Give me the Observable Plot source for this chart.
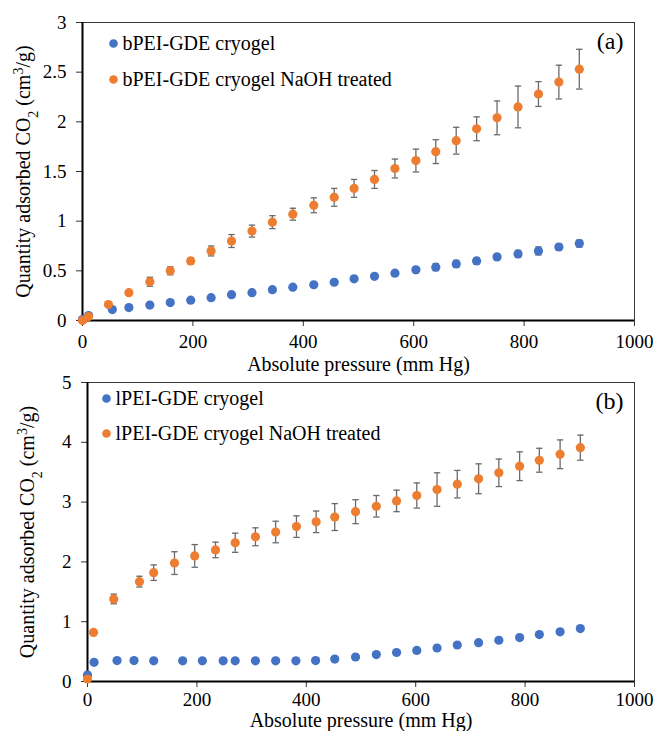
<!DOCTYPE html>
<html><head><meta charset="utf-8">
<script src="https://cdn.jsdelivr.net/npm/d3@7"></script>
<script src="https://cdn.jsdelivr.net/npm/@observablehq/plot@0.6"></script>
<style>
body{margin:0;background:#fff;}
#chart{width:656px;}
#chart svg{display:block;}
#chart svg, #chart svg text{font-family:"Liberation Serif","Times New Roman",serif !important;}
</style>
</head><body><div id="chart"></div>
<script>
// ---------- data ----------
const xTicks = [0, 200, 400, 600, 800, 1000];
const yTicksA = [0, 0.5, 1, 1.5, 2, 2.5, 3];
const yTicksB = [0, 1, 2, 3, 4, 5];

const seriesNamesA = ["bPEI-GDE cryogel", "bPEI-GDE cryogel NaOH treated"];
const seriesNamesB = ["lPEI-GDE cryogel", "lPEI-GDE cryogel NaOH treated"];
const panelTags = ["(a)", "(b)"];
const xLabel = "Absolute pressure (mm Hg)";
const yLabel = "Quantity adsorbed CO2 (cm3/g)";

// panel (a) – bPEI
const blueA_x = [0, 11, 54, 84, 122, 159, 196, 233, 270, 307, 344, 381, 419, 456, 492, 529, 566, 604, 640, 677, 714, 751, 789, 826, 863, 900];
const blueA_y = [0.01, 0.05, 0.11, 0.13, 0.155, 0.18, 0.205, 0.23, 0.26, 0.28, 0.31, 0.335, 0.36, 0.385, 0.42, 0.445, 0.476, 0.51, 0.537, 0.57, 0.60, 0.64, 0.67, 0.70, 0.74, 0.775];
const blueA_err = [0, 0, 0.01, 0.01, 0.01, 0.01, 0.01, 0.01, 0.01, 0.01, 0.015, 0.015, 0.015, 0.02, 0.02, 0.02, 0.025, 0.03, 0.035, 0.035, 0.03, 0.03, 0.035, 0.04, 0.03, 0.035];

const orangeA_x = [0, 11, 47, 84, 122, 159, 196, 233, 270, 307, 344, 381, 419, 456, 492, 529, 566, 604, 640, 677, 714, 751, 789, 826, 863, 900];
const orangeA_y = [0, 0.04, 0.16, 0.28, 0.39, 0.50, 0.60, 0.70, 0.80, 0.90, 0.99, 1.07, 1.16, 1.24, 1.33, 1.42, 1.53, 1.61, 1.70, 1.81, 1.93, 2.04, 2.15, 2.28, 2.40, 2.53];
const orangeA_err = [0, 0.01, 0.02, 0.02, 0.045, 0.04, 0.03, 0.05, 0.065, 0.06, 0.065, 0.06, 0.075, 0.09, 0.09, 0.09, 0.095, 0.115, 0.12, 0.135, 0.12, 0.17, 0.21, 0.125, 0.17, 0.2];

// panel (b) – lPEI
const blueB_x = [0, 12, 54, 85, 121, 174, 210, 248, 270, 307, 344, 381, 417, 452, 490, 528, 565, 602, 639, 676, 715, 752, 790, 826, 864, 901];
const blueB_y = [0.11, 0.32, 0.35, 0.35, 0.345, 0.345, 0.345, 0.345, 0.345, 0.345, 0.345, 0.345, 0.35, 0.375, 0.41, 0.45, 0.485, 0.52, 0.56, 0.61, 0.65, 0.69, 0.735, 0.785, 0.83, 0.885];
const blueB_err = [0, 0, 0, 0, 0, 0, 0, 0, 0, 0, 0, 0, 0, 0, 0, 0, 0, 0, 0, 0, 0, 0, 0, 0, 0, 0];

const orangeB_x = [0, 11, 48, 95, 121, 159, 196, 234, 270, 307, 344, 382, 418, 452, 490, 528, 565, 602, 639, 676, 715, 752, 790, 826, 864, 901];
const orangeB_y = [0.04, 0.82, 1.38, 1.67, 1.82, 1.98, 2.10, 2.20, 2.32, 2.42, 2.50, 2.59, 2.67, 2.75, 2.84, 2.93, 3.02, 3.11, 3.21, 3.30, 3.39, 3.49, 3.60, 3.70, 3.80, 3.91];
const orangeB_err = [0, 0, 0.08, 0.09, 0.13, 0.19, 0.19, 0.13, 0.16, 0.15, 0.18, 0.18, 0.18, 0.225, 0.2, 0.18, 0.18, 0.21, 0.28, 0.23, 0.25, 0.23, 0.24, 0.2, 0.24, 0.21];

const BLUE = "#4472C4", ORANGE = "#ED7D31", ERR = "#6b6b6b";
const FONT = "Liberation Serif, Times New Roman, serif";

// horizontal cap symbol for error bars
const capSymbol = { draw(ctx) { ctx.moveTo(-3.2, 0); ctx.lineTo(3.2, 0); } };

function rowsOf(xs, ys, es) {
  return xs.map((x, i) => ({ x, y: ys[i], e: es[i] }));
}

function panel(cfg) {
  const marks = [
    Plot.frame({ stroke: "#3a3a3a", strokeWidth: 1 }),
    Plot.axisX({ ticks: xTicks, tickFormat: d => String(d), tickSize: 6, tickPadding: cfg.xPad, label: null, fontSize: 19, stroke: "#333" }),
    Plot.axisY({ ticks: cfg.yTicks, tickFormat: d => String(d), tickSize: 6, tickPadding: 10, label: null, fontSize: 19, stroke: "#333" }),
    Plot.ruleX([0], { stroke: "black", strokeWidth: 2 }),
    Plot.ruleY([0], { stroke: "black", strokeWidth: 2 })
  ];
  cfg.series.forEach(s => {
    const rows = rowsOf(s.x, s.y, s.err);
    const er = rows.filter(d => d.e > 0);
    marks.push(
      Plot.ruleX(er, { x: "x", y1: d => d.y - d.e, y2: d => d.y + d.e, stroke: ERR, strokeWidth: 1.3 }),
      Plot.dot(er, { x: "x", y: d => d.y + d.e, symbol: capSymbol, stroke: ERR, fill: "none", strokeWidth: 1.3 }),
      Plot.dot(er, { x: "x", y: d => d.y - d.e, symbol: capSymbol, stroke: ERR, fill: "none", strokeWidth: 1.3 })
    );
  });
  cfg.series.forEach(s => {
    marks.push(Plot.dot(rowsOf(s.x, s.y, s.err), { x: "x", y: "y", r: 4.6, fill: s.color, stroke: "none" }));
  });
  // legend
  cfg.series.forEach((s, i) => {
    marks.push(
      Plot.dot([s.name], { frameAnchor: "top-left", dx: cfg.legDotDx, dy: cfg.legDy + i * cfg.legGap, r: 4.3, fill: s.color, stroke: "none" }),
      Plot.text([s.name], { frameAnchor: "top-left", dx: cfg.legTextDx, dy: cfg.legDy + i * cfg.legGap, textAnchor: "start", lineAnchor: "middle", fontSize: 20, fill: "black", fontFamily: FONT })
    );
  });
  marks.push(
    Plot.text([cfg.tag], { frameAnchor: "top-right", dx: -11, dy: 19, textAnchor: "end", lineAnchor: "middle", fontSize: 24, fill: "black", fontFamily: FONT }),
    Plot.text([xLabel], { frameAnchor: "bottom", dy: cfg.xLabDy, textAnchor: "middle", lineAnchor: "middle", fontSize: 20, fill: "black", fontFamily: FONT }),
    Plot.text([yLabel], { frameAnchor: "left", dx: cfg.yLabDx, rotate: -90, textAnchor: "middle", lineAnchor: "middle", fontSize: 20, fill: "black", fontFamily: FONT })
  );
  const svg = Plot.plot({
    width: 656, height: cfg.height,
    marginTop: cfg.mt, marginBottom: cfg.mb, marginLeft: cfg.ml, marginRight: 22,
    x: { domain: [0, 1000] },
    y: { domain: cfg.yDomain },
    style: { fontFamily: FONT, fontSize: "19px", color: "black", background: "white", overflow: "visible" },
    marks
  });
  svg.querySelectorAll("text").forEach(t => {
    if (t.textContent === yLabel) {
      t.innerHTML = 'Quantity adsorbed CO<tspan baseline-shift="sub" font-size="70%">2</tspan> (cm<tspan baseline-shift="super" font-size="70%">3</tspan>/g)';
    }
  });
  return svg;
}

const chart = document.getElementById("chart");
chart.append(panel({
  height: 365, mt: 22, mb: 45, ml: 82, xPad: 8,
  yDomain: [0, 3], yTicks: yTicksA, tag: panelTags[0],
  legDotDx: 31, legTextDx: 40, legDy: 21, legGap: 36, yLabDx: -59, xLabDy: 44,
  series: [
    { name: seriesNamesA[0], color: BLUE, x: blueA_x, y: blueA_y, err: blueA_err },
    { name: seriesNamesA[1], color: ORANGE, x: orangeA_x, y: orangeA_y, err: orangeA_err }
  ]
}));
chart.append(panel({
  height: 366, mt: 17, mb: 50, ml: 87, xPad: 5,
  yDomain: [0, 5], yTicks: yTicksB, tag: panelTags[1],
  legDotDx: 19, legTextDx: 28, legDy: 16, legGap: 35, yLabDx: -60, xLabDy: 39,
  series: [
    { name: seriesNamesB[0], color: BLUE, x: blueB_x, y: blueB_y, err: blueB_err },
    { name: seriesNamesB[1], color: ORANGE, x: orangeB_x, y: orangeB_y, err: orangeB_err }
  ]
}));
</script></body></html>
